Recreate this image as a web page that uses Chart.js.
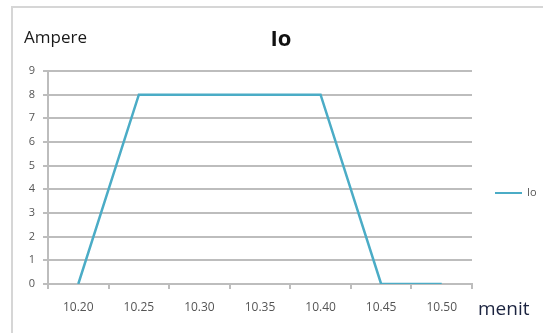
<!DOCTYPE html>
<html>
<head>
<meta charset="utf-8">
<script src="https://cdn.jsdelivr.net/npm/chart.js@4/dist/chart.umd.min.js"></script>
<style>
  html, body { margin: 0; padding: 0; background: #fff; }
  #wrap { width: 543px; height: 333px; }
</style>
</head>
<body>
<div id="wrap"><canvas id="ioChart" width="543" height="333"></canvas></div>
<script>
// Arus Io per menit
const waktu = ['10.20', '10.25', '10.30', '10.35', '10.40', '10.45', '10.50'];
const arusIo = [0, 8, 8, 8, 8, 0, 0];
const seriesName = 'Io';

const lineColor = '#4bacc6';
const gridColor = '#bdbdbd';
const tickColor = '#555555';
const fontFamily = "'Open Sans', 'DejaVu Sans', sans-serif";

// Frame, title, axis names and legend drawn on the canvas
const decorations = {
    id: 'decorations',
    beforeDraw(chart) {
        const ctx = chart.ctx;
        ctx.save();
        ctx.fillStyle = '#fff';
        ctx.fillRect(0, 0, chart.width, chart.height);
        ctx.strokeStyle = '#d6d6d6';
        ctx.lineWidth = 2;
        ctx.strokeRect(12, 7, 600, 400);
        ctx.restore();
    },
    afterDraw(chart) {
        const ctx = chart.ctx;
        ctx.save();
        ctx.textBaseline = 'alphabetic';

        ctx.fillStyle = '#111';
        ctx.font = `bold 22px ${fontFamily}`;
        ctx.textAlign = 'center';
        ctx.fillText(seriesName, 281, 46);

        ctx.textAlign = 'left';
        ctx.fillStyle = '#1a1a1a';
        ctx.font = `17px ${fontFamily}`;
        ctx.fillText('Ampere', 24, 43);
        ctx.fillStyle = '#1c2440';
        ctx.font = `19px ${fontFamily}`;
        ctx.fillText('menit', 478, 315);

        // legend entry
        ctx.strokeStyle = lineColor;
        ctx.lineWidth = 2;
        ctx.beginPath();
        ctx.moveTo(495, 193);
        ctx.lineTo(522, 193);
        ctx.stroke();
        ctx.fillStyle = tickColor;
        ctx.font = `11px ${fontFamily}`;
        ctx.textBaseline = 'middle';
        ctx.fillText(chart.data.datasets[0].label, 527, 193);
        ctx.restore();
    }
};

new Chart(document.getElementById('ioChart'), {
    type: 'line',
    data: {
        labels: waktu,
        datasets: [{
            label: seriesName,
            data: arusIo,
            borderColor: lineColor,
            borderWidth: 2.5,
            pointRadius: 0,
            fill: false,
            tension: 0
        }]
    },
    options: {
        responsive: false,
        animation: false,
        layout: { padding: { left: 0, top: 71, right: 71, bottom: 0 } },
        plugins: {
            legend: { display: false },
            tooltip: { enabled: false }
        },
        scales: {
            x: {
                offset: true,
                afterFit: (scale) => { scale.height = 49; },
                grid: {
                    offset: true,
                    drawOnChartArea: false,
                    drawTicks: true,
                    tickLength: 5,
                    color: gridColor,
                    lineWidth: 2
                },
                border: { color: gridColor, width: 2 },
                ticks: {
                    color: tickColor,
                    font: { family: fontFamily, size: 12 },
                    padding: 11,
                    maxRotation: 0
                }
            },
            y: {
                min: 0,
                max: 9,
                afterFit: (scale) => { scale.width = 48; },
                grid: {
                    color: gridColor,
                    lineWidth: 2,
                    drawTicks: true,
                    tickLength: 5
                },
                border: { color: gridColor, width: 2 },
                ticks: {
                    stepSize: 1,
                    color: tickColor,
                    font: { family: fontFamily, size: 11 },
                    padding: 8
                }
            }
        }
    },
    plugins: [decorations]
});
</script>
</body>
</html>
